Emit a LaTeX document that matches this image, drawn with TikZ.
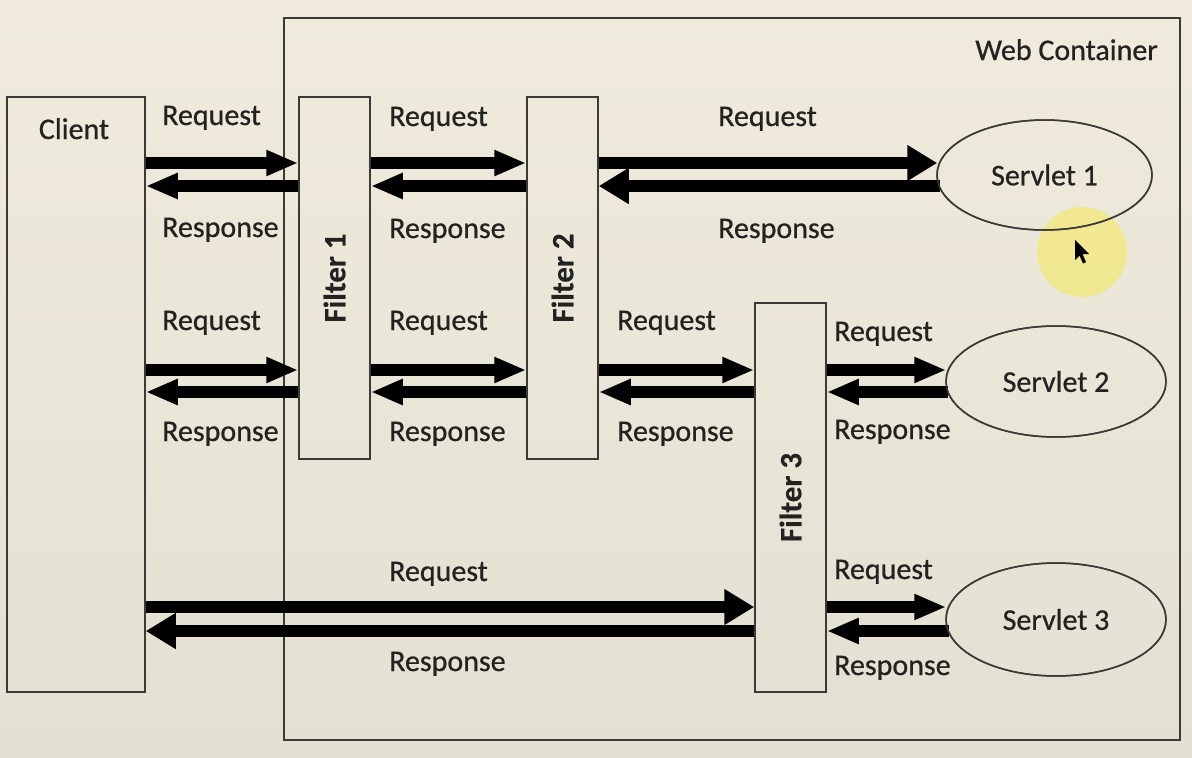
\documentclass[tikz,border=0pt]{standalone}
\usepackage{fontspec}
\setmainfont{Carlito}[FakeBold=0.7]
\newfontfamily\fltfont{Carlito}[FakeBold=0.3]
\usetikzlibrary{arrows.meta,shapes.geometric}
\definecolor{bgtop}{HTML}{F0EBDC}
\definecolor{bgbot}{HTML}{E3E0D3}
\definecolor{boxc}{HTML}{3A3A36}
\definecolor{txt}{HTML}{222220}
\definecolor{hl}{HTML}{F3E97A}
\begin{document}
\begin{tikzpicture}[x=1pt,y=-1pt,
  box/.style={draw=boxc, line width=1.5pt, rectangle, inner sep=0pt},
  oval/.style={draw=boxc, line width=1.5pt, ellipse, inner sep=0pt,
               font=\fontsize{30}{36}\selectfont, text=txt},
  lbl/.style={anchor=base west, font=\fontsize{30}{36}\selectfont, text=txt, inner sep=0pt},
  flt/.style={rotate=90, font=\fltfont\bfseries\fontsize{31}{36}\selectfont, text=txt, inner sep=0pt},
  arr/.style={line width=12pt, draw=black, -{Triangle[length=32pt,width=24pt]}},
  bigarr/.style={line width=12pt, draw=black, -{Triangle[length=30pt,width=34pt]}}
]
\useasboundingbox (0,0) rectangle (1192,758);
\fill[top color=bgtop, bottom color=bgbot] (0,0) rectangle (1192,758);

% highlight
\fill[hl, opacity=0.75] (1082,252) circle (45);

% boxes
\node[box, minimum width=896pt, minimum height=722pt] (web) at (732,379) {};
\node[lbl, anchor=base east] (weblbl) at (1158,60) {Web Container};
\node[box, minimum width=138pt, minimum height=595pt] (client) at (76,394.5) {};
\node[lbl, anchor=base] (clientlbl) at (74,139) {Client};
\node[box, minimum width=71pt, minimum height=362pt] (f1) at (334.5,278) {};
\node[box, minimum width=71pt, minimum height=362pt] (f2) at (562.5,278) {};
\node[box, minimum width=71pt, minimum height=389pt] (f3) at (790.5,497.5) {};
\node[flt] (f1lbl) at (f1.center) {Filter 1};
\node[flt] (f2lbl) at (f2.center) {Filter 2};
\node[flt] (f3lbl) at (f3.center) {Filter 3};

% arrow levels
\coordinate (a1) at (0,163);
\coordinate (b1) at (0,186);
\coordinate (a2) at (0,370);
\coordinate (b2) at (0,392);
\coordinate (a3) at (0,607);
\coordinate (b3) at (0,631);

% servlets
\path (1044.5,175) coordinate (s1c) (1056,381.5) coordinate (s2c) (1056,619.5) coordinate (s3c);
\node[oval, minimum width=215pt, minimum height=110pt] (s1) at (s1c) {Servlet 1};
\node[oval, minimum width=220pt, minimum height=111pt] (s2) at (s2c) {Servlet 2};
\node[oval, minimum width=220pt, minimum height=113pt] (s3) at (s3c) {Servlet 3};

% row 1
\draw[arr] (client.east |- a1) -- (f1.west |- a1);
\draw[arr] (f1.west |- b1) -- (client.east |- b1);
\draw[arr] (f1.east |- a1) -- (f2.west |- a1);
\draw[arr] (f2.west |- b1) -- (f1.east |- b1);
\draw[bigarr] (f2.east |- a1) -- ([xshift=1pt]s1.west |- a1);
\draw[bigarr] ([xshift=4pt]s1.west |- b1) -- (f2.east |- b1);

% row 2
\draw[arr] (client.east |- a2) -- (f1.west |- a2);
\draw[arr] (f1.west |- b2) -- (client.east |- b2);
\draw[arr] (f1.east |- a2) -- (f2.west |- a2);
\draw[arr] (f2.west |- b2) -- (f1.east |- b2);
\draw[arr] (f2.east |- a2) -- (f3.west |- a2);
\draw[arr] (f3.west |- b2) -- (f2.east |- b2);
\draw[arr] (f3.east |- a2) -- ([xshift=1pt]s2.west |- a2);
\draw[arr] ([xshift=3pt]s2.west |- b2) -- (f3.east |- b2);

% row 3
\draw[bigarr] (client.east |- a3) -- (f3.west |- a3);
\draw[bigarr] (f3.west |- b3) -- (client.east |- b3);
\draw[arr] (f3.east |- a3) -- ([xshift=1pt]s3.west |- a3);
\draw[arr] ([xshift=4pt]s3.west |- b3) -- (f3.east |- b3);

% ellipse outlines on top of arrow ends
\draw[boxc, line width=1.5pt] (s1c) ellipse (107.5 and 55);
\draw[boxc, line width=1.5pt] (s2c) ellipse (110 and 55.5);
\draw[boxc, line width=1.5pt] (s3c) ellipse (110 and 56.5);

% labels
\node[lbl] (q11) at (162,125) {Request};
\node[lbl] (p11) at (162,237) {Response};
\node[lbl] (q12) at (389,126) {Request};
\node[lbl] (p12) at (389,238) {Response};
\node[lbl] (q13) at (718,126) {Request};
\node[lbl] (p13) at (718,238) {Response};

\node[lbl] (q21) at (162,330) {Request};
\node[lbl] (p21) at (162,441) {Response};
\node[lbl] (q22) at (389,330) {Request};
\node[lbl] (p22) at (389,441) {Response};
\node[lbl] (q23) at (617,330) {Request};
\node[lbl] (p23) at (617,441) {Response};
\node[lbl] (q24) at (834,341) {Request};
\node[lbl] (p24) at (834,439) {Response};

\node[lbl] (q31) at (389,581) {Request};
\node[lbl] (p31) at (389,671) {Response};
\node[lbl] (q34) at (834,579) {Request};
\node[lbl] (p34) at (834,675) {Response};

% cursor
\fill[black] (1075,240) -- (1075,260) -- (1079.5,255.5) -- (1083,263.5) -- (1086,262) -- (1082.5,254) -- (1089,254) -- cycle;
\end{tikzpicture}
\end{document}
